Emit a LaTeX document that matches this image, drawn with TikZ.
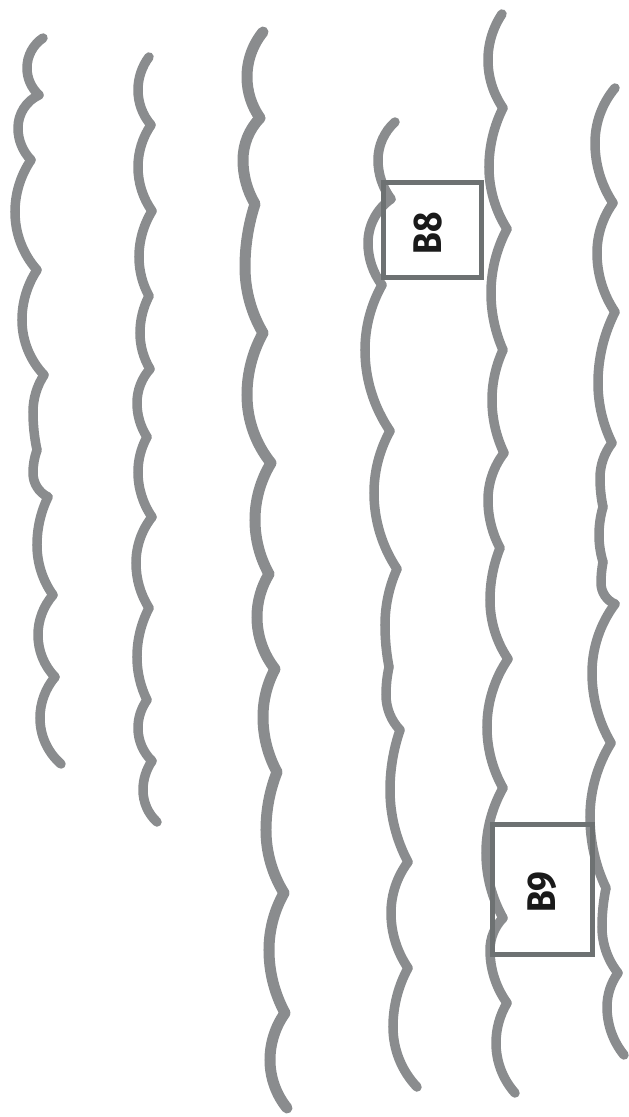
\documentclass[tikz,border=0pt]{standalone}
\usepackage{fontspec}
\newfontfamily\lblfont{Fira Sans}
\definecolor{linegray}{HTML}{8A8C8E}
\definecolor{boxgray}{HTML}{6D7172}
\definecolor{inkblack}{HTML}{1A1A1A}
\tikzset{
  wline/.style={draw=linegray, line cap=round, line join=round},
  bx/.style={draw=boxgray, line width=5pt, inner sep=0pt, fill=none},
  lbl/.style={text=inkblack, inner sep=0pt, font=\lblfont\bfseries\fontsize{40}{40}\selectfont},
}
% circular arcs between cusps, vertical tangent at the leftmost point
\newcommand\wvpath[4]{%
  \foreach \wvmx/\wvmy/\wvbx/\wvby [remember=\wvbx as \wvax (initially #2), remember=\wvby as \wvay (initially #3)] in {#4} {
    \pgfmathsetmacro\wvdax{\wvax-\wvmx}
    \pgfmathsetmacro\wvday{\wvmy-\wvay}
    \pgfmathsetmacro\wvRa{veclen(\wvdax,\wvday)*(veclen(\wvdax,\wvday)/(2*\wvdax))}
    \pgfmathsetmacro\wvpa{atan2(\wvday,\wvdax-\wvRa)}
    \pgfmathsetmacro\wvdbx{\wvbx-\wvmx}
    \pgfmathsetmacro\wvdby{\wvmy-\wvby}
    \pgfmathsetmacro\wvRb{veclen(\wvdbx,\wvdby)*(veclen(\wvdbx,\wvdby)/(2*\wvdbx))}
    \pgfmathsetmacro\wvpb{mod(atan2(\wvdby,\wvdbx-\wvRb)+360,360)}
    \draw[wline, line width=#1] (\wvax,-\wvay) arc[start angle=\wvpa, end angle=180, radius=\wvRa pt]
      arc[start angle=180, end angle=\wvpb, radius=\wvRb pt];
  }
}
\begin{document}
\begin{tikzpicture}[x=1pt,y=1pt]
\useasboundingbox (0,0) rectangle (629,-1117);
% line 1
\wvpath{9.5pt}{43}{38}{27/68/39/95, 18/128/31/160, 15/212/37/270, 22/320/44/375, 33/412/37/450, 33/473/48/497, 37/545/53/595, 38/635/55/677, 40/718/61/764}
% line 2
\wvpath{9.5pt}{149}{57}{138/90/151/125, 138/167/152/211, 139/257/149/296, 140/333/150/369, 137/403/147/437, 138/472/152/517, 136/563/149/608, 137/657/147/700, 138/728/152/761, 143/790/157/822}
% line 3
\wvpath{11pt}{263}{32}{247/77/260/118, 243/160/255/204, 245/267/263/333, 247/395/271/463, 255/520/269/574, 257/617/275/669, 263/717/277/772, 266/830/284/893, 269/950/285/1013, 270/1060/287/1108}
% line 4
\wvpath{9.5pt}{395}{122}{378/160/391/199, 368/243/382/285, 365/350/390/431, 374/493/397/569, 385/625/389/667, 386/695/400/730, 390/790/408/862, 391/913/408/968, 393/1027/417/1087}
% line 5
\wvpath{9.5pt}{502}{14}{488/60/503/108, 489/167/507/229, 491/293/503/350, 492/400/504/453, 488/500/500/548, 490/600/508/659, 487/727/503/788, 486/853/503/918, 490/950/507/1003, 496/1043/515/1093}
% line 6
\wvpath{9.5pt}{615}{88}{595/143/613/203, 597/253/615/312, 598/383/612/443, 600/478/603/507, 599/535/603/562, 601/583/615/604, 592/673/611/743, 590/817/606/888, 602/927/618/973, 607/1007/624/1055}
% boxes
\node[bx, minimum width=98pt, minimum height=95pt] (b8) at (432,-229.5) {};
\node[bx, minimum width=100pt, minimum height=130pt] (b9) at (542,-889) {};
\node[lbl] (b8t) at (428,-233) {\rotatebox{90}{\scalebox{0.88}[1]{B8}}};
\node[lbl] (b9t) at (542,-892) {\rotatebox{90}{\scalebox{0.88}[1]{B9}}};
\end{tikzpicture}
\end{document}
